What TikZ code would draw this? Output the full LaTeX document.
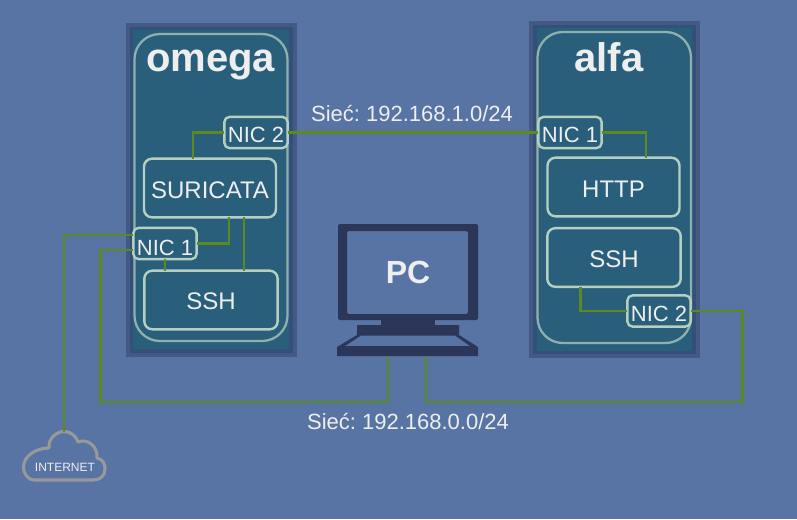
\documentclass[tikz,border=0pt]{standalone}
\usepackage{fontspec}
\setmainfont{Liberation Sans}
\definecolor{bgc}{HTML}{5874A4}
\definecolor{band}{HTML}{445A85}
\definecolor{bandin}{HTML}{33507A}
\definecolor{panel}{HTML}{2A5F7C}
\definecolor{contb}{HTML}{8FB0AC}
\definecolor{boxb}{HTML}{B5CFC0}
\definecolor{wire}{HTML}{5C8A1E}
\definecolor{pcdark}{HTML}{2C3659}
\definecolor{txt}{HTML}{EEEEEE}
\definecolor{cloudc}{HTML}{999999}
\tikzset{
  x=0.75pt,y=-0.75pt,
  every node/.style={inner sep=0pt,outer sep=0pt,text=txt},
  outerband/.style={draw=band,line width=3pt,fill=none},
  innerband/.style={draw=bandin,line width=3pt,fill=panel},
  container/.style={draw=contb,line width=1.7pt,rounded corners=19pt},
  svc/.style={draw=boxb,fill=panel,line width=1.8pt,rounded corners=6pt},
  nicbox/.style={draw=boxb,fill=panel,line width=1.8pt,rounded corners=4pt,minimum width=47.5pt,minimum height=23.5pt},
  wireline/.style={draw=wire,line width=1.9pt},
  hostname/.style={anchor=base,font=\fontsize{30}{30}\selectfont\bfseries},
  svclabel/.style={anchor=base,font=\fontsize{18}{18}\selectfont},
  niclabel/.style={anchor=base,font=\fontsize{16.5}{16.5}\selectfont},
  netlabel/.style={anchor=base,font=\fontsize{16.5}{16.5}\selectfont},
  pcpart/.style={fill=pcdark,draw=none},
}
\begin{document}
\frenchspacing
\begin{tikzpicture}
\useasboundingbox (0,0) rectangle (797,519);
\fill[bgc] (0,0) rectangle (797,519);

% omega host
\draw[innerband] (131,28) rectangle (291,351);
\draw[outerband] (127.5,24.5) rectangle (294.5,355);
\draw[container] (134.5,34) rectangle (287.5,341);
\node[hostname] (omega) at (210.5,71) {omega};
\node[nicbox] (onic2) at (256,132.5) {};
\node[niclabel] (onic2t) at (256,142.5) {NIC 2};
\node[svc,minimum width=99pt,minimum height=44pt] (suricata) at (210,188) {};
\node[svclabel] (suricatat) at (210,198) {SURICATA};
\node[nicbox] (onic1) at (165,243.5) {};
\node[niclabel] (onic1t) at (165,255) {NIC 1};
\node[svc,minimum width=100pt,minimum height=44pt] (ossh) at (211,300) {};
\node[svclabel] (ossht) at (211,309) {SSH};

% alfa host
\draw[innerband] (535,26) rectangle (694,353);
\draw[outerband] (531,22.5) rectangle (697.5,356);
\draw[container] (537.5,32) rectangle (691,343);
\node[hostname] (alfa) at (609,71) {alfa};
\node[nicbox] (anic1) at (570,132.5) {};
\node[niclabel] (anic1t) at (570,142.5) {NIC 1};
\node[svc,minimum width=99pt,minimum height=44pt] (http) at (613.5,187) {};
\node[svclabel] (httpt) at (613.5,197) {HTTP};
\node[svc,minimum width=100pt,minimum height=44pt] (assh) at (614,257.5) {};
\node[svclabel] (assht) at (614,267) {SSH};
\node[nicbox] (anic2) at (659,311) {};
\node[niclabel] (anic2t) at (659,321) {NIC 2};

% PC
\fill[pcpart,rounded corners=1.5pt,even odd rule] (338,224) rectangle (478,320) (347,231) rectangle (468,314);
\fill[pcpart] (381,319) rectangle (435,326);
\fill[pcpart,even odd rule] (357,325) -- (459,325) -- (459,335) -- (478,347) -- (478,356) -- (337,356) -- (337,347) -- (357,335) -- cycle
  (361,335.5) -- (455,335.5) -- (470,346) -- (345,346) -- cycle;
\node[anchor=base,font=\fontsize{24}{24}\selectfont\bfseries] (pc) at (408,283) {PC};
\coordinate (pcbase) at (408,356);

% cloud
\draw[cloudc,line width=2.3pt,line join=round]
  (35,480) .. controls (27,480) and (23.5,473) .. (23.5,467)
  .. controls (23.5,456) and (36,448) .. (49,448)
  .. controls (48,438) and (57,431.5) .. (64,431.5)
  .. controls (71,431.5) and (76,436) .. (78,442)
  .. controls (87,438) and (98,446) .. (97,458)
  .. controls (103,459) and (105,464) .. (105,469)
  .. controls (105,476) and (100,480) .. (93,480) -- cycle;
\coordinate (cloudtop) at (64,431.5);
\node[anchor=base,font=\fontsize{9}{9}\selectfont] (inet) at (65,471.5) {INTERNET};

% connectors
\draw[wireline] (onic2.west) -| (suricata.north -| 193,0);
\draw[wireline] (onic2.east) -- (anic1.west);
\draw[wireline] (onic1.east) -| (suricata.south -| 229,0);
\draw[wireline] (suricata.south -| 244,0) -- (ossh.north -| 244,0);
\draw[wireline] (onic1.south -| 165,0) -- (ossh.north -| 165,0);
\draw[wireline] (onic1.west |- 0,235) -| (cloudtop);
\draw[wireline] (onic1.west |- 0,250) -| (100.5,402) -| (pcbase -| 388,0);
\draw[wireline] (pcbase -| 426,0) |- (742.5,402) |- (anic2.east);
\draw[wireline] (anic1.east) -| (http.north -| 646,0);
\draw[wireline] (assh.south -| 580.5,0) |- (anic2.west);

\node[netlabel] (net1) at (412,121) {Sieć: 192.168.1.0/24};
\node[netlabel] (net0) at (408,429) {Sieć: 192.168.0.0/24};
\end{tikzpicture}
\end{document}
